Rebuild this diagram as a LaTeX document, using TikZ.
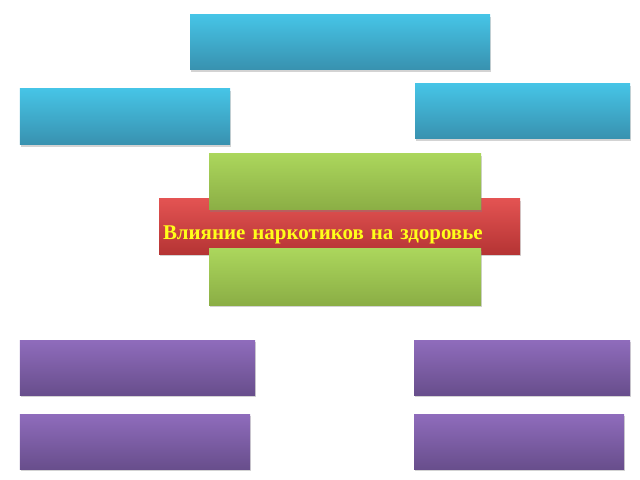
\documentclass[tikz,border=0pt]{standalone}
\usepackage{fontspec}
\setmainfont{Liberation Serif}
\usetikzlibrary{shadows}

\definecolor{bluetop}{HTML}{46C4E6}
\definecolor{bluebot}{HTML}{3891AF}
\definecolor{greentop}{HTML}{ABD65C}
\definecolor{greenbot}{HTML}{8BAE45}
\definecolor{redtop}{HTML}{E35352}
\definecolor{redbot}{HTML}{B53434}
\definecolor{purpletop}{HTML}{8F6CBC}
\definecolor{purplebot}{HTML}{684E8C}
\definecolor{labelyellow}{HTML}{FFFF1A}

\tikzset{
  box/.style = {rectangle, inner sep=0pt, anchor=center,
    drop shadow={shadow xshift=1.2bp, shadow yshift=-2bp, opacity=0.35}},
  bluebox/.style = {box, top color=bluetop, bottom color=bluebot},
  greenbox/.style = {box, top color=greentop, bottom color=greenbot},
  redbox/.style = {box, top color=redtop, bottom color=redbot},
  purplebox/.style = {box, top color=purpletop, bottom color=purplebot},
}

\begin{document}
\begin{tikzpicture}[x=1bp, y=-1bp]
    \useasboundingbox (0,0) rectangle (640,480);
    % blue row
    \node[bluebox, minimum width=300bp, minimum height=55bp] (B1) at (340,42.5) {};
    \node[bluebox, minimum width=210bp, minimum height=56bp] (B2) at (125,117) {};
    \node[bluebox, minimum width=215bp, minimum height=55bp] (B3) at (522.5,111.5) {};
    % centre
    \node[redbox, minimum width=361bp, minimum height=55bp, text width=353bp,
          text height=27bp, text depth=0bp, align=left,
          font=\bfseries\fontsize{21}{24}\selectfont,
          text=labelyellow] (R) at (339.5,226.5) {Влияние наркотиков на здоровье};
    \node[greenbox, minimum width=272bp, minimum height=56bp] (G1) at (345,182) {};
    \node[greenbox, minimum width=272bp, minimum height=56bp] (G2) at (345,277) {};
    % purple rows
    \node[purplebox, minimum width=235bp, minimum height=55bp] (P1) at (137.5,367.5) {};
    \node[purplebox, minimum width=216bp, minimum height=55bp] (P2) at (522,367.5) {};
    \node[purplebox, minimum width=230bp, minimum height=55bp] (P3) at (135,441.5) {};
    \node[purplebox, minimum width=210bp, minimum height=55bp] (P4) at (519,441.5) {};
\end{tikzpicture}
\end{document}
